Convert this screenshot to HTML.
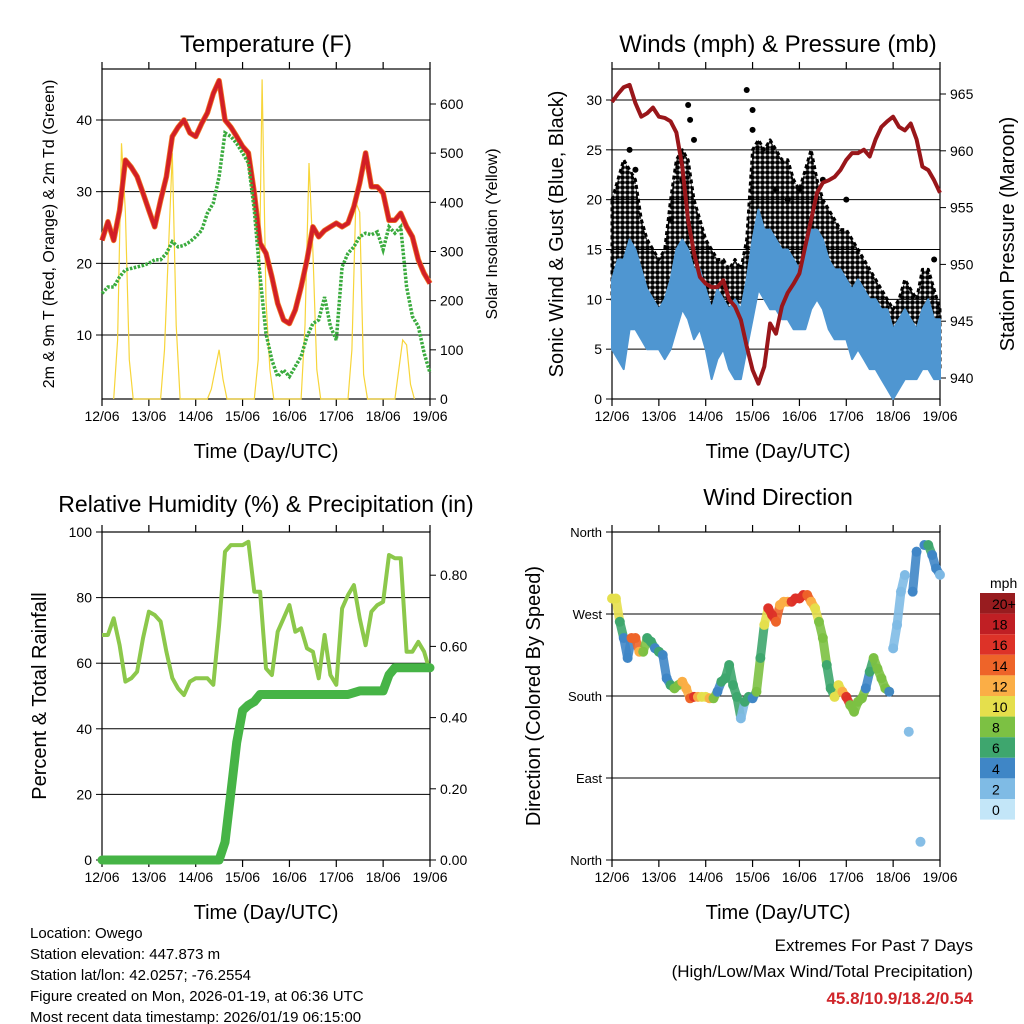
<!DOCTYPE html>
<html><head><meta charset="utf-8"><style>
body{margin:0;background:#fff}
svg{display:block;font-family:"Liberation Sans",sans-serif}
</style></head><body>
<svg id="c" width="1024" height="1024" viewBox="0 0 1024 1024" xmlns="http://www.w3.org/2000/svg">
<defs>
<pattern id="dots" width="5" height="5" patternUnits="userSpaceOnUse"><circle cx="2.5" cy="2.5" r="2.4" fill="#000"/></pattern>
</defs>
<g id="g"></g>
<text x="266" y="52" font-size="24" text-anchor="middle">Temperature (F)</text>
<text x="778" y="52" font-size="24" text-anchor="middle">Winds (mph) &amp; Pressure (mb)</text>
<text x="266" y="512" font-size="23" text-anchor="middle">Relative Humidity (%) &amp; Precipitation (in)</text>
<text x="778" y="505" font-size="23" text-anchor="middle">Wind Direction</text>
<text transform="translate(54,234) rotate(-90)" font-size="16" text-anchor="middle">2m &amp; 9m T (Red, Orange) &amp; 2m Td (Green)</text>
<text transform="translate(497,234) rotate(-90)" font-size="16" text-anchor="middle">Solar Insolation (Yellow)</text>
<text transform="translate(563,234) rotate(-90)" font-size="20" text-anchor="middle">Sonic Wind &amp; Gust (Blue, Black)</text>
<text transform="translate(1014,234) rotate(-90)" font-size="20" text-anchor="middle">Station Pressure (Maroon)</text>
<text transform="translate(46,696) rotate(-90)" font-size="20" text-anchor="middle">Percent &amp; Total Rainfall</text>
<text transform="translate(540,696) rotate(-90)" font-size="20" text-anchor="middle">Direction (Colored By Speed)</text>
<text x="266" y="458" font-size="20" text-anchor="middle">Time (Day/UTC)</text>
<text x="778" y="458" font-size="20" text-anchor="middle">Time (Day/UTC)</text>
<text x="266" y="919" font-size="20" text-anchor="middle">Time (Day/UTC)</text>
<text x="778" y="919" font-size="20" text-anchor="middle">Time (Day/UTC)</text>
<g font-size="15">
<text x="30" y="938">Location: Owego</text>
<text x="30" y="959">Station elevation: 447.873 m</text>
<text x="30" y="980">Station lat/lon: 42.0257; -76.2554</text>
<text x="30" y="1001">Figure created on Mon, 2026-01-19, at 06:36 UTC</text>
<text x="30" y="1022">Most recent data timestamp: 2026/01/19 06:15:00</text>
</g>
<text x="973" y="951" font-size="17" text-anchor="end">Extremes For Past 7 Days</text>
<text x="973" y="977" font-size="17" text-anchor="end">(High/Low/Max Wind/Total Precipitation)</text>
<text x="973" y="1004" font-size="17" font-weight="bold" fill="#d0252a" text-anchor="end">45.8/10.9/18.2/0.54</text>
</svg>
<script>
const hours3=[];for(let i=0;i<=56;i++)hours3.push(i*3);
const dayLabels=["12/06","13/06","14/06","15/06","16/06","17/06","18/06","19/06"];
const tempRed=[23.2,25.8,23.2,27.4,34.4,33.4,32.1,29.8,27.4,25.1,28.8,32.1,37.7,39,40,38.2,37.7,39.5,41,43.7,45.5,40,39,37.7,36.3,35.4,29.8,22.8,21.4,18.1,14.4,12.1,11.6,13.5,16.7,20.5,25.1,23.7,24.6,25.1,25.6,25.1,25.6,27.9,31.2,35.4,30.7,30.7,29.8,26,26,27,25.1,23.7,20.5,18.6,17.2];
const dewGreen=[15.8,16.7,16.7,18.1,19.1,19.3,19.5,19.7,20,20.5,20.5,21.4,23,22.3,22.5,23,23.7,24.6,27,28.4,32.1,38.2,37.7,36.7,35.4,34,27.4,18.1,10.2,6.5,4.2,5.1,4.2,5.6,7,9.8,11.6,12.1,15.3,11.2,9.3,19.5,21.4,22.3,23.7,24.2,24,24.4,21.9,25.1,24.2,25.1,16.7,12.6,11.2,7.5,4.7];
const solarDaily=[[0,120,520,380,80,0],[0,100,300,500,150,0],[0,20,60,100,40,0],[0,80,650,200,60,0],[0,150,480,300,60,0],[0,100,400,380,50,0],[0,60,120,110,30,0]];
const solarHours=[6,8,10,12,14,16];
const pressure=[964.3,965,965.6,965.8,964.2,963,963.3,963.8,963,962.9,962.6,961.6,958.6,953.9,951,948.9,948.3,948,948,948.6,946.9,946.3,945.1,942.8,940.7,939.5,941,944.8,943.9,946.3,947.5,948.3,949.2,951.6,953.9,956.3,957.2,957.4,957.7,958.3,959.2,959.8,959.8,960.1,959.5,961,962.1,962.6,963,962.1,961.8,962.4,961,958.6,958.3,957.4,956.3];
const windHi=[12,14,14,16,15,13,11,10,9,10,12,15,16,15,13,13,11,9,11,10,9,10,9,12,16,19,17,17,16,15,15,14,13,15,17,17,16,14,13,13,12,11,12,11,10,10,9,9,7,8,9,8,7,9,10,8,8];
const windLo=[5,4,3,7,7,6,5,5,5,4,5,7,9,8,6,7,5,2,4,5,3,2,2,5,8,11,10,9,9,8,8,7,7,7,9,10,9,7,6,6,6,4,5,4,3,3,2,1,0,1,2,2,2,3,3,2,2];
const gustHi=[20,22,24,23,22,18,16,15,14,15,20,24,25,24,20,18,16,15,14,14,13,14,13,16,25,26,25,26,25,24,24,22,21,23,25,22,20,19,18,17,17,16,15,14,13,12,11,10,9,10,12,11,10,13,13,11,9];
const gustLo=[10,8,10,12,11,9,7,6,6,7,9,12,14,12,10,10,8,6,6,6,5,5,5,7,14,16,15,14,14,12,12,11,10,11,12,12,10,10,9,8,8,7,6,5,5,4,3,2,1,3,4,4,4,4,4,3,3];
const gustOutHours=[9,12,39,40,42,69,72,72,84,90,96,108,120,165,30,36];
const gustOutVals=[25,23,29.5,28,26,31,29,27,21,20,21,22,20,14,18,22];
const rh=[68.6,68.6,73.7,65.5,54.4,55.4,57.4,67.6,75.7,74.7,72.7,63.5,55.5,52.3,50.3,54.4,55.4,55.4,55.4,53.4,71.6,94,96,96,96,97,81.8,81.8,58.4,56.4,69.6,73.7,77.7,69.6,70.6,64.5,63.5,55.4,68.6,56.4,53.4,76.7,80.8,83.8,73.7,65.5,75.7,77.7,78.7,93,92,92,63.5,63.5,66.5,63.5,57.4];
const precip=[0,0,0,0,0,0,0,0,0,0,0,0,0,0,0,0,0,0,0,0,0,0.05,0.19,0.33,0.42,0.435,0.445,0.465,0.465,0.465,0.465,0.465,0.465,0.465,0.465,0.465,0.465,0.465,0.465,0.465,0.465,0.465,0.465,0.47,0.475,0.475,0.475,0.475,0.475,0.52,0.54,0.54,0.54,0.54,0.54,0.54,0.54];
const dirHours=[];for(let i=0;i<=84;i++)dirHours.push(i*2);
const dirDeg=[287,287,261.5,243.6,221.7,243.6,243.6,228.6,228.6,243.6,239.6,232.5,228.6,225,199.4,192,188.4,192,195.7,188.4,177.5,179.1,179,179,179,177.5,177.5,184.7,195.7,199.4,214,192,179,155.5,173.7,179,177.5,184.7,221.7,258,276.3,268.9,261.5,279.9,283.5,283.5,283.5,287.2,287,290.8,290.8,283.5,276.3,261.5,243.6,214,188.4,179,192,184.7,179,170,162.7,173.7,177.5,188.4,206.6,221.7,210,199.4,188.4,184.7,232.3,258,294.5,312.8,140.8,294.5,338.4,20,345.7,345.7,334.8,320,313];
const dirSpeed=[10,10,6,5,4,14,14,12,9,7,6,5,6,4,4,7,8,9,12,12,15,16,12,11,10,12,8,4,7,7,6,7,6,3,6,6,5,8,7,10,16,16,14,13,12,13,16,16,16,16,14,12,10,8,9,7,6,10,10,12,16,9,8,9,8,5,7,8,9,8,9,5,3,2,3,2,2,5,4,3,5,6,4,4,3];
const speedColors=["#c3e6f8","#7fbbe5","#3f86c6","#3ea66e","#7cc143","#e5df4c","#fbae46","#ee6429","#dd3228","#c01f24","#981c1f"];
const speedLabels=["0","2","4","6","8","10","12","14","16","18","20+"];

const NS="http://www.w3.org/2000/svg";
const G=document.getElementById('g');
function el(tag,attrs,parent){const e=document.createElementNS(NS,tag);for(const k in attrs)e.setAttribute(k,attrs[k]);(parent||G).appendChild(e);return e;}
function txt(s,attrs,parent){const e=el('text',attrs,parent);e.textContent=s;return e;}
const W=328;
function panel(x0,y0,y1){return {x0,y0,y1,xs:h=>x0+h*W/168};}
const P1=panel(102,69,399),P2=panel(612,69,399),P3=panel(102,532,860),P4=panel(612,532,860);
function lin(v0,p0,v1,p1){return v=>p0+(v-v0)*(p1-p0)/(v1-v0);}
const yT=lin(10,335,40,120), yS=lin(0,399,600,104);
const yW=lin(0,399,30,100), yP=lin(965,94,940,378);
const yR=lin(0,860,100,532), yPr=lin(0,860,0.8,575.2);
const yD=lin(360,532,0,860);

function frame(P,name){
  const gg=el('g',{});
  
  
  el('rect',{x:P.x0,y:P.y0,width:W,height:P.y1-P.y0,fill:'none',stroke:'#000','stroke-width':1.2},gg);
  dayLabels.forEach((d,i)=>{const x=P.xs(i*24);
    el('line',{x1:x,x2:x,y1:P.y1,y2:P.y1+7,stroke:'#000','stroke-width':1.2},gg);
    el('line',{x1:x,x2:x,y1:P.y0,y2:P.y0-7,stroke:'#000','stroke-width':1.2},gg);
    const t=txt(d,{x:x,y:P.y1+22,'font-size':14,'text-anchor':'middle'},gg);
    
    
  });
  return gg;
}
function grid(P,vals,yf,gg){vals.forEach(v=>el('line',{x1:P.x0,x2:P.x0+W,y1:yf(v),y2:yf(v),stroke:'#000','stroke-width':1},gg));}
function yTicks(P,vals,labels,yf,side,gg,fs){vals.forEach((v,i)=>{const y=yf(v);
  if(side==='l'){el('line',{x1:P.x0-6,x2:P.x0,y1:y,y2:y,stroke:'#000'},gg);txt(labels[i],{x:P.x0-10,y:y+5,'font-size':fs||14,'text-anchor':'end'},gg);}
  else{el('line',{x1:P.x0+W,x2:P.x0+W+6,y1:y,y2:y,stroke:'#000'},gg);txt(labels[i],{x:P.x0+W+10,y:y+5,'font-size':fs||14},gg);}
});}
function path(P,hs,vals,yf){return hs.map((h,i)=>(i?'L':'M')+P.xs(h).toFixed(1)+','+yf(vals[i]).toFixed(1)).join('');}

// Panel 1
let g1=frame(P1,'temperature-panel');
grid(P1,[10,20,30,40],yT,g1);
yTicks(P1,[10,20,30,40],['10','20','30','40'],yT,'l',g1);
yTicks(P1,[0,100,200,300,400,500,600],['0','100','200','300','400','500','600'],yS,'r',g1);
const solH=[],solV=[];
solarDaily.forEach((d,di)=>{solarHours.forEach((h,j)=>{solH.push(di*24+h);solV.push(d[j]);});});
let sp=el('path',{d:path(P1,solH,solV,yS),fill:'none',stroke:'#f7d53a','stroke-width':1.2},g1);


let op=el('path',{d:path(P1,hours3,tempRed,yT),fill:'none',stroke:'#f07a25','stroke-width':5.5,'stroke-linejoin':'round'},g1);


let rp=el('path',{d:path(P1,hours3,tempRed,yT),fill:'none',stroke:'#d21f26','stroke-width':4,'stroke-linejoin':'round'},g1);


let gp=el('path',{d:path(P1,hours3,dewGreen,yT),fill:'none',stroke:'#3aab3e','stroke-width':3.5,'stroke-dasharray':'2.5 1.5'},g1);



// Panel 2
let g2=frame(P2,'winds-panel');
grid(P2,[5,10,15,20,25,30],yW,g2);
yTicks(P2,[0,5,10,15,20,25,30],['0','5','10','15','20','25','30'],yW,'l',g2);
yTicks(P2,[940,945,950,955,960,965],['940','945','950','955','960','965'],yP,'r',g2);
function band(P,hs,hi,lo,yf){let d=hs.map((h,i)=>(i?'L':'M')+P.xs(h).toFixed(1)+','+yf(hi[i]).toFixed(1)).join('');
  for(let i=hs.length-1;i>=0;i--)d+='L'+P.xs(hs[i]).toFixed(1)+','+yf(lo[i]).toFixed(1);return d+'Z';}
let gb=el('path',{d:band(P2,hours3,gustHi,gustLo,yW),fill:'url(#dots)',stroke:'#000','stroke-width':3,'stroke-dasharray':'4 3','stroke-linejoin':'round'},g2);


gustOutHours.forEach((h,i)=>{const c=el('circle',{cx:P2.xs(h),cy:yW(gustOutVals[i]),r:3,fill:'#000'},g2);
  
  });
let wb=el('path',{d:band(P2,hours3,windHi,windLo,yW),fill:'#4f96d1',stroke:'#4f96d1','stroke-width':2,'stroke-linejoin':'round'},g2);


let pp=el('path',{d:path(P2,hours3,pressure,yP),fill:'none',stroke:'#99161a','stroke-width':4,'stroke-linejoin':'round'},g2);



// Panel 3
let g3=frame(P3,'humidity-panel');
grid(P3,[20,40,60,80],yR,g3);
yTicks(P3,[0,20,40,60,80,100],['0','20','40','60','80','100'],yR,'l',g3);
yTicks(P3,[0,0.2,0.4,0.6,0.8],['0.00','0.20','0.40','0.60','0.80'],yPr,'r',g3);
let rhp=el('path',{d:path(P3,hours3,rh,yR),fill:'none',stroke:'#8cc84b','stroke-width':4,'stroke-linejoin':'round'},g3);


let prp=el('path',{d:path(P3,hours3,precip,yPr),fill:'none',stroke:'#46b446','stroke-width':9,'stroke-linejoin':'round','stroke-linecap':'round'},g3);



// Panel 4
let g4=frame(P4,'wind-direction-panel');
grid(P4,[270,180,90],yD,g4);
yTicks(P4,[360,270,180,90,0],['North','West','South','East','North'],yD,'l',g4,13);
dirHours.forEach((h,i)=>{
  if(i<dirHours.length-1 && Math.abs(dirDeg[i+1]-dirDeg[i])<45){
    const b=Math.min(10,Math.floor(dirSpeed[i]/2));
    const s=el('line',{x1:P4.xs(h),y1:yD(dirDeg[i]),x2:P4.xs(dirHours[i+1]),y2:yD(dirDeg[i+1]),stroke:speedColors[b],'stroke-width':9,'stroke-linecap':'round','stroke-opacity':0.9},g4);
    
    
  }
});
dirHours.forEach((h,i)=>{const b=Math.min(10,Math.floor(dirSpeed[i]/2));
  const c=el('circle',{cx:P4.xs(h),cy:yD(dirDeg[i]),r:5,fill:speedColors[b],'fill-opacity':0.95},g4);
  
  });
// colorbar
const cb=el('g',{});


txt('mph',{x:990,y:588,'font-size':14},cb);
for(let i=10;i>=0;i--){const y=593+(10-i)*20.6;
  el('rect',{x:980,y:y,width:35,height:20.6,fill:speedColors[i]},cb);
  txt(speedLabels[i],{x:992,y:y+16,'font-size':14},cb);}
</script>
</body></html>
